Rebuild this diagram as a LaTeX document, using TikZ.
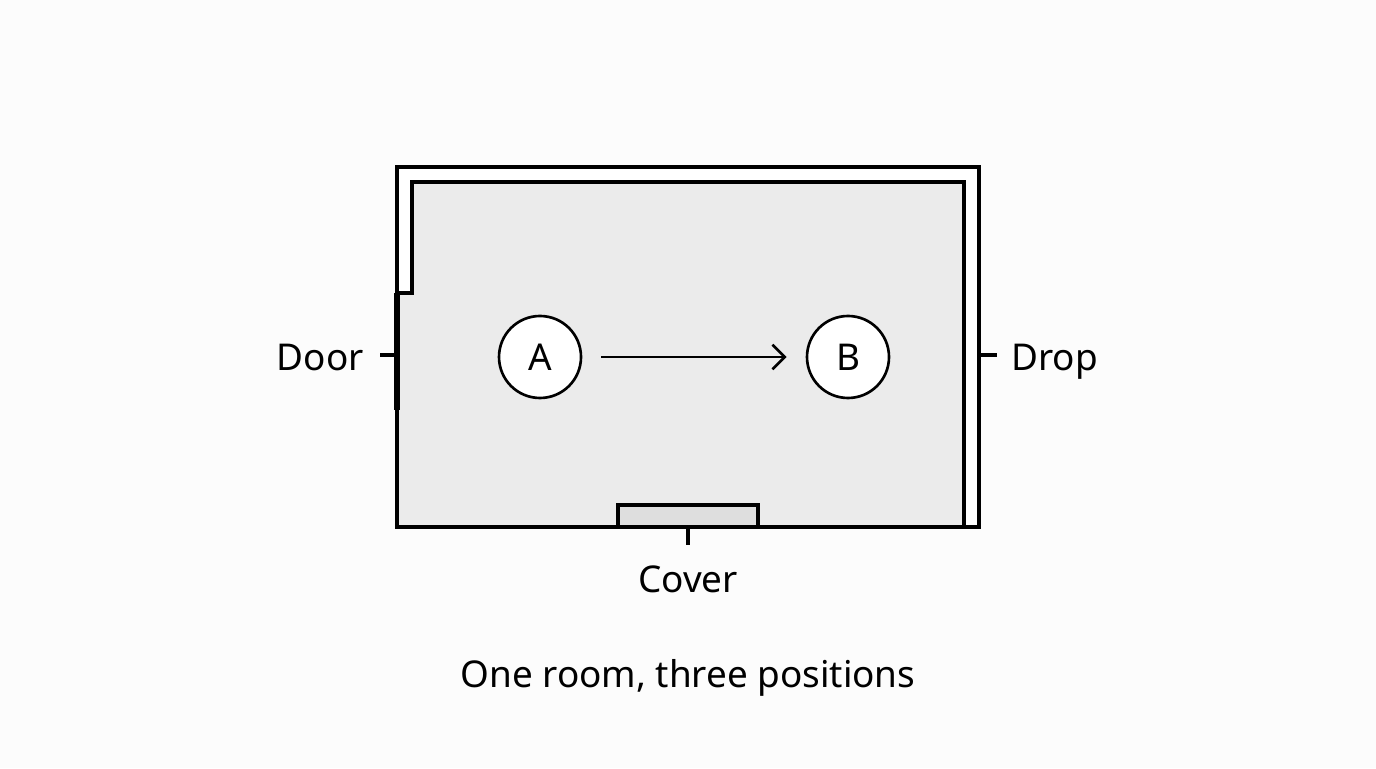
\documentclass[tikz,border=0pt]{standalone}
\usepackage{fontspec}
\setmainfont{Noto Sans}
\usetikzlibrary{arrows.meta}
\definecolor{roomgray}{HTML}{EBEBEB}
\definecolor{covergray}{HTML}{DEDEDE}
\tikzset{wall/.style={line width=2pt},
 spot/.style={draw,circle,line width=1.5pt,fill=white,minimum size=1.64cm,inner sep=0pt,font=\fontsize{21}{26}\selectfont},
 lbl/.style={font=\fontsize{21}{26}\selectfont}}
\begin{document}
\begin{tikzpicture}
\fill[white!99!black] (0,0) rectangle (27.52,15.36);
\useasboundingbox (0,0) rectangle (27.52,15.36);
\fill[white] (7.94,4.82) rectangle (19.58,12.02);
\fill[roomgray] (7.94,4.82) -- (7.94,9.5) -- (8.24,9.5) -- (8.24,11.72) -- (19.28,11.72) -- (19.28,4.82) -- cycle;
\draw[wall] (7.94,4.82) rectangle (19.58,12.02);
\draw[wall] (7.94,9.5) -- (8.24,9.5) -- (8.24,11.72) -- (19.28,11.72) -- (19.28,4.82);
\draw[line width=3pt] (7.94,9.5) -- (7.94,7.16);
% cover
\draw[wall,fill=covergray] (12.36,4.82) rectangle (15.16,5.26);
\coordinate (cv) at (13.76,4.82);
\node[lbl,anchor=base] (cover) at (13.76,3.5) {Cover};
\draw[wall] (cv) -- ++(0,-0.36);
% door and drop
\coordinate (dr) at (7.94,8.26);
\node[lbl,anchor=base east] (door) at (7.4,7.95) {Door};
\draw[wall] (dr) -- ++(-0.34,0);
\coordinate (dp) at (19.6,8.26);
\node[lbl,anchor=base west] (drop) at (20.1,7.95) {Drop};
\draw[wall] (dp) -- ++(0.34,0);
% positions
\node[spot] (a) at (10.8,8.22) {A};
\node[spot] (b) at (16.96,8.22) {B};
\coordinate (as) at ([xshift=0.38cm]a.east);
\coordinate (be) at ([xshift=-0.38cm]b.west);
\draw[line width=1.5pt,-{Straight Barb[length=7pt,width=14pt]}] (as) -- (be);
\node[lbl,anchor=base] (cap) at (13.76,1.6) {One room, three positions};
\end{tikzpicture}
\end{document}
